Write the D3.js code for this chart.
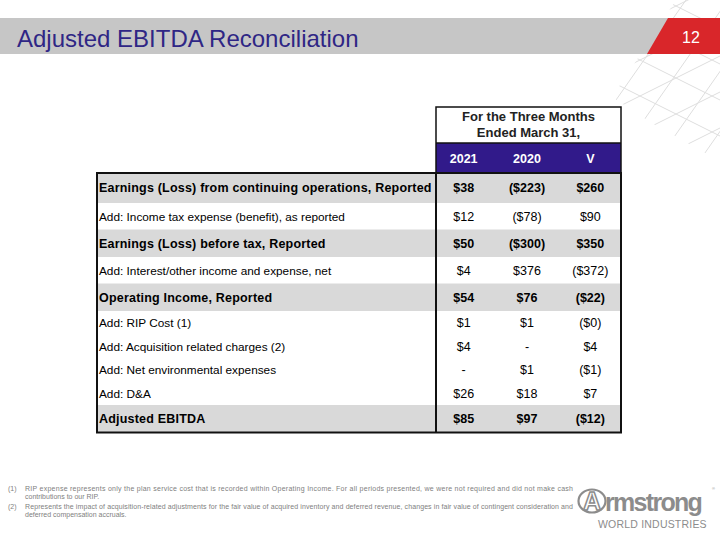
<!DOCTYPE html>
<html><head><meta charset="utf-8">
<script src="https://cdn.jsdelivr.net/npm/d3@7"></script>
<style>html,body{margin:0;padding:0;background:#fff;}svg{display:block;}</style>
</head><body>
<svg id="c" width="720" height="540"></svg>
<script>
// ---- data ----
const title = "Adjusted EBITDA Reconciliation";
const pageNumber = "12";
const periodHeader = ["For the Three Months", "Ended March 31,"];
const columns = ["2021", "2020", "V"];
const rowLabels = [
  "Earnings (Loss) from continuing operations, Reported",
  "Add: Income tax expense (benefit), as reported",
  "Earnings (Loss) before tax, Reported",
  "Add: Interest/other income and expense, net",
  "Operating Income, Reported",
  "Add: RIP Cost (1)",
  "Add: Acquisition related charges (2)",
  "Add: Net environmental expenses",
  "Add: D&A",
  "Adjusted EBITDA"
];
const values2021 = [38, 12, 50, 4, 54, 1, 4, null, 26, 85];
const values2020 = [-223, -78, -300, 376, 76, 1, null, 1, 18, 97];
const valuesV    = [260, 90, 350, -372, -22, -0, 4, -1, 7, -12];
const subtotalRows = [0, 2, 4, 9];
const footnotes = [
  ["(1)", "RIP expense represents only the plan service cost that is recorded within Operating Income. For all periods presented, we were not required and did not make cash", "contributions to our RIP."],
  ["(2)", "Represents the impact of acquisition-related adjustments for the fair value of acquired inventory and deferred revenue, changes in fair value of contingent consideration and", "deferred compensation accruals."]
];

// ---- drawing ----
const svg = d3.select("#c");
const FONT = "'Liberation Sans', Arial, sans-serif";
const PURPLE = "#311a8a";

// decorative lattice (top-right)
const clip = svg.append("defs").append("clipPath").attr("id","decoClip");
clip.append("polygon").attr("points","720,0 676,0 640,55 612,97 650,122 700,150 720,162");
const lat = svg.append("g").attr("clip-path","url(#decoClip)").attr("stroke","#dedede").attr("stroke-width",1).attr("fill","none");
for (let c = -400; c <= 400; c += 36) {
  lat.append("line").attr("x1",560).attr("y1",0.5*560 + c - 220).attr("x2",760).attr("y2",0.5*760 + c - 220);
  lat.append("line").attr("x1",560).attr("y1",-0.5*560 + c + 420).attr("x2",760).attr("y2",-0.5*760 + c + 420);
}
for (let c = 560; c <= 900; c += 42) {
  lat.append("line").attr("x1",c).attr("y1",0).attr("x2",c-0.7*200).attr("y2",200);
}

// title band
svg.append("rect").attr("x",0).attr("y",18).attr("width",720).attr("height",36).attr("fill","#c6c6c6");
svg.append("polygon").attr("points","668,18 720,18 720,54 647,54").attr("fill","#d9262a");
svg.append("text").attr("x",17).attr("y",47).attr("font-family",FONT).attr("font-size",24)
  .attr("fill","#2f2685").text(title);
svg.append("text").attr("x",691).attr("y",43).attr("text-anchor","middle").attr("font-family",FONT)
  .attr("font-size",16).attr("fill","#fff").text(pageNumber);

// table geometry
const tableLeft = 97, tableRight = 621, divider = 436;
const headTop = 107, purpleTop = 143, bodyTop = 173;
const x = d3.scaleBand().domain(columns).range([432, 622]);
const heights = rowLabels.map((d,i) => subtotalRows.includes(i) ? (i===0 ? 30 : 27.5) : (i>=5 && i<=8 ? 23.5 : 26.5));
const ys = []; let acc = bodyTop;
heights.forEach(h => { ys.push(acc); acc += h; });
const bodyBottom = acc;

const fmt = v => v === null ? "-" : (v < 0 || Object.is(v,-0)) ? "($" + Math.abs(Math.round(v)) + ")" : "$" + Math.round(v);
const isSub = i => subtotalRows.includes(i);

const rows = svg.append("g").selectAll("g").data(rowLabels).join("g");
rows.append("rect").attr("x",tableLeft).attr("y",(d,i)=>ys[i]).attr("width",tableRight-tableLeft)
  .attr("height",(d,i)=>heights[i]).attr("fill",(d,i)=>isSub(i) ? "#d9d9d9" : "#fff");
rows.append("text").attr("x",tableLeft+2).attr("y",(d,i)=>ys[i]+heights[i]/2+4.3)
  .attr("font-family",FONT).attr("font-size",(d,i)=>isSub(i) ? 12.5 : 11.8)
  .attr("font-weight",(d,i)=>isSub(i) ? "bold" : "normal")
  .attr("letter-spacing",(d,i)=>isSub(i) ? 0.2 : 0)
  .text(d=>d);
const series = [values2021, values2020, valuesV];
columns.forEach((col, ci) => {
  rows.append("text").attr("x", x(col) + x.bandwidth()/2).attr("y",(d,i)=>ys[i]+heights[i]/2+4.3)
    .attr("text-anchor","middle").attr("font-family",FONT).attr("font-size",12.5)
    .attr("font-weight",(d,i)=>isSub(i) ? "bold" : "normal")
    .text((d,i)=>fmt(series[ci][i]));
});

// header
svg.append("rect").attr("x",divider).attr("y",purpleTop).attr("width",tableRight-divider).attr("height",bodyTop-purpleTop).attr("fill",PURPLE);
periodHeader.forEach((t,i)=>{
  svg.append("text").attr("x",(divider+tableRight)/2).attr("y",headTop+14+i*16).attr("text-anchor","middle")
    .attr("font-family",FONT).attr("font-size",13).attr("font-weight","bold").attr("fill","#222").text(t);
});
columns.forEach(col=>{
  svg.append("text").attr("x",x(col)+x.bandwidth()/2).attr("y",(purpleTop+bodyTop)/2+4.5).attr("text-anchor","middle")
    .attr("font-family",FONT).attr("font-size",12.5).attr("font-weight","bold").attr("fill","#fff").text(col);
});

// borders
const b = svg.append("g").attr("stroke","#111").attr("fill","none");
b.append("rect").attr("x",divider).attr("y",headTop).attr("width",tableRight-divider).attr("height",bodyTop-headTop).attr("stroke-width",1.5);
b.append("line").attr("x1",divider).attr("x2",tableRight).attr("y1",purpleTop).attr("y2",purpleTop).attr("stroke-width",1.5);
b.append("rect").attr("x",tableLeft).attr("y",bodyTop).attr("width",tableRight-tableLeft).attr("height",bodyBottom-bodyTop).attr("stroke-width",2);
b.append("line").attr("x1",divider).attr("x2",divider).attr("y1",bodyTop).attr("y2",bodyBottom).attr("stroke-width",2);

// footnotes
const fn = svg.append("g").attr("font-family",FONT).attr("font-size",7).attr("fill","#808080");
footnotes.forEach((f,i)=>{
  const y0 = 490.5 + i*18;
  fn.append("text").attr("x",8).attr("y",y0).text(f[0]);
  fn.append("text").attr("x",25).attr("y",y0).attr("textLength",548).attr("lengthAdjust","spacing").text(f[1]);
  fn.append("text").attr("x",25).attr("y",y0+8.5).text(f[2]);
});

// logo
const logo = svg.append("g").attr("fill","#8c8c8c").attr("font-family",FONT);
logo.append("ellipse").attr("cx",592).attr("cy",501).attr("rx",13.5).attr("ry",11.5).attr("fill","none").attr("stroke","#8c8c8c").attr("stroke-width",2.2);
logo.append("text").attr("x",592).attr("y",510).attr("text-anchor","middle").attr("font-size",25).attr("font-weight","bold").attr("fill","#fff").attr("stroke","#8c8c8c").attr("stroke-width",1.5).text("A");
logo.append("text").attr("x",605).attr("y",511).attr("font-size",25).attr("font-weight","bold")
  .attr("letter-spacing",-1.7).text("rmstrong");
logo.append("text").attr("x",712).attr("y",490).attr("font-size",4).text("®");
logo.append("text").attr("x",598).attr("y",528).attr("font-size",10.5).attr("letter-spacing",0.2).text("WORLD INDUSTRIES");
</script>
</body></html>
